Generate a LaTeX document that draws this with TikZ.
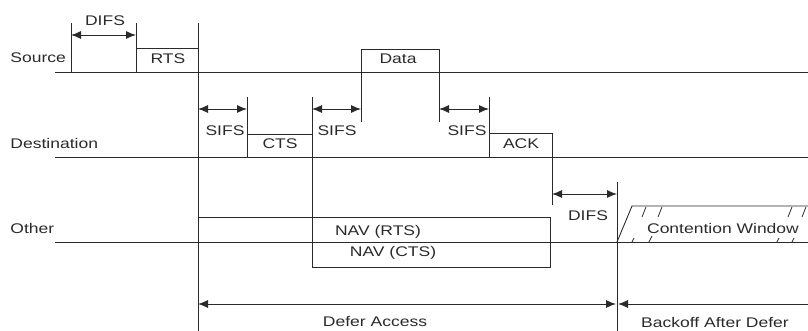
\documentclass[tikz,border=0pt]{standalone}
\usepackage{fontspec}
\setmainfont{Liberation Sans}[FakeStretch=1.25]
\usetikzlibrary{arrows.meta}
\definecolor{ink}{HTML}{2A2A2A}
\begin{document}
\begin{tikzpicture}[x=1pt,y=-1pt,
  line width=0.9pt, draw=ink,
  lbl/.style={font=\fontsize{14}{16}\selectfont, inner sep=0pt, text=ink},
  dim/.style={draw=ink,{Latex[length=10pt,width=8pt]}-{Latex[length=10pt,width=8pt]}},
  onearrow/.style={draw=ink,{Latex[length=10pt,width=8pt]}-},
  tick/.style={draw=ink,line width=0.8pt}]
\useasboundingbox (0,0) rectangle (808,331);

% coordinates
\coordinate (s0) at (55,72);   \coordinate (s1) at (808,72);
\coordinate (d0) at (55,157);  \coordinate (d1) at (808,157);
\coordinate (o0) at (55,242);  \coordinate (o1) at (808,242);

% time lines
\draw (s0) -- (s1);
\draw (d0) -- (d1);
\draw (o0) -- (o1);

% labels of stations
\node[lbl,anchor=west] (lsrc) at (10,58) {Source};
\node[lbl,anchor=west] (ldst) at (10,143) {Destination};
\node[lbl,anchor=west] (loth) at (10,228) {Other};

% DIFS at source
\coordinate (df0) at (71,35); \coordinate (df1) at (136,35);
\draw (71,23) -- (71,72);
\draw (136,23) -- (136,72);
\draw[dim] (df0) -- (df1);
\node[lbl] (ldifs1) at (105,21) {DIFS};

% RTS
\draw (136,48) -- (198,48);
\draw (198,23) -- (198,331);
\node[lbl] (lrts) at (168,59) {RTS};

% SIFS 1 and CTS
\coordinate (sa0) at (198,109); \coordinate (sa1) at (247,109);
\draw[dim] (sa0) -- (sa1);
\draw (247,97) -- (247,157);
\node[lbl] (lsifs1) at (225,131) {SIFS};
\draw (247,134) -- (312,134);
\node[lbl] (lcts) at (280,144) {CTS};
\draw (312,97) -- (312,267);

% SIFS 2 and Data
\coordinate (sb0) at (312,109); \coordinate (sb1) at (361,109);
\draw[dim] (sb0) -- (sb1);
\node[lbl] (lsifs2) at (337,131) {SIFS};
\draw (361,122) -- (361,49) -- (439,49) -- (439,122);
\node[lbl] (ldata) at (398,59) {Data};

% SIFS 3 and ACK
\coordinate (sc0) at (439,109); \coordinate (sc1) at (489,109);
\draw[dim] (sc0) -- (sc1);
\node[lbl] (lsifs3) at (467,131) {SIFS};
\draw (489,97) -- (489,157);
\draw (489,133) -- (552,133);
\draw (552,133) -- (552,205);
\node[lbl] (lack) at (521,144) {ACK};

% DIFS at end
\coordinate (de0) at (552,194); \coordinate (de1) at (617,194);
\draw[dim] (de0) -- (de1);
\draw (617,182) -- (617,331);
\node[lbl] (ldifs2) at (588,216) {DIFS};

% NAV boxes
\draw (198,217) rectangle (550,242);
\draw (312,242) rectangle (550,267);
\node[lbl] (lnavr) at (378,232) {NAV (RTS)};
\node[lbl] (lnavc) at (393,253) {NAV (CTS)};

% Contention window
\draw (617,242) -- (632,206) -- (808,206);
\draw[tick] (642,217) -- (646,207);
\draw[tick] (658,217) -- (662,207);
\draw[tick] (788,217) -- (792,207);
\draw[tick] (802,217) -- (806,207);
\draw[tick] (632,242) -- (634,238);
\draw[tick] (649,242) -- (652,236);
\draw[tick] (777,242) -- (779,238);
\draw[tick] (792,242) -- (794,238);
\node[lbl] (lcw) at (723,228) {Contention Window};

% Defer access / backoff
\coordinate (da0) at (198,304); \coordinate (da1) at (616,304);
\coordinate (bo0) at (618,304); \coordinate (bo1) at (808,304);
\draw[dim] (da0) -- (da1);
\draw[onearrow] (bo0) -- (bo1);
\node[lbl] (ldefer) at (375,322) {Defer Access};
\node[lbl] (lback) at (715,322) {Backoff After Defer};
\end{tikzpicture}
\end{document}
